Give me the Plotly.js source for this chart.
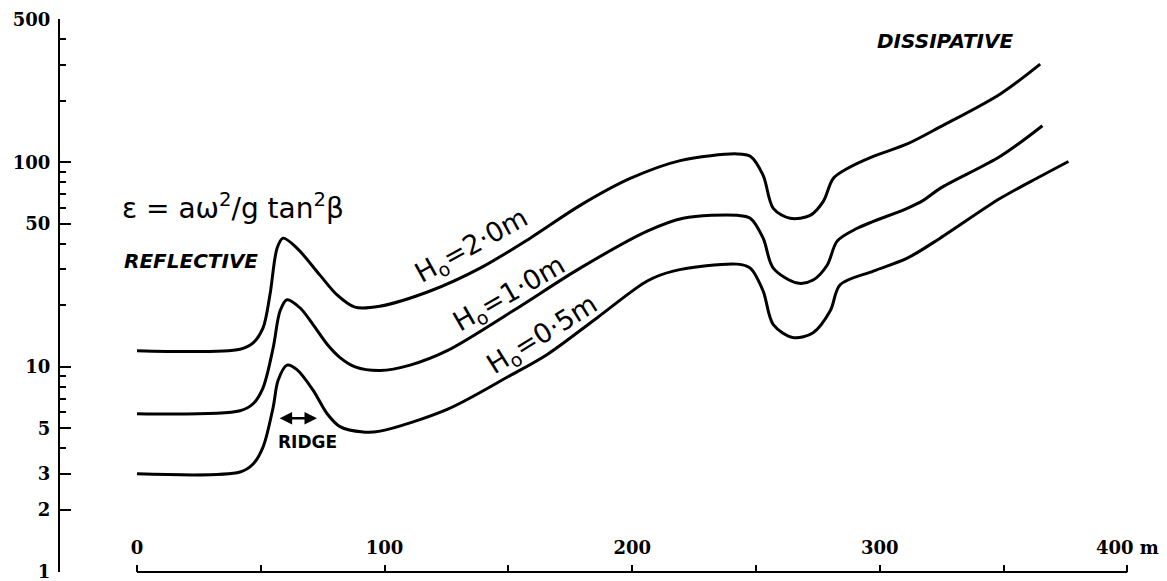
<!DOCTYPE html>
<html>
<head>
<meta charset="utf-8">
<script src="https://cdn.plot.ly/plotly-3.0.1.min.js"></script>
<style>html,body{margin:0;padding:0;background:#fff;}#chart{width:1167px;height:581px;}</style>
</head>
<body>
<div id="chart"></div>
<script>
// Distance offshore (m) and surf-scaling parameter epsilon for each deep-water wave height
const distH20 = [0, 41.6, 46.9, 50.9, 53.7, 56.6, 59.0, 64.6, 73.9, 80.8, 88.0, 98.0, 118.4, 138.6, 158.8, 179.0, 199.2, 219.4, 242.4, 247.7, 252.9, 257.0, 263.8, 271.9, 277.2, 281.2, 286.9, 297.4, 311.1, 324.4, 348.7, 364.8];
const epsH20  = [12.0, 12.2, 13.1, 15.5, 22.5, 38.1, 42.6, 38.1, 28.1, 22.5, 19.6, 19.8, 23.5, 30.4, 42.6, 61.6, 83.4, 102, 110, 107, 86.3, 59.6, 53.3, 55.1, 64.5, 83.4, 93.3, 107, 123, 149, 216, 302];

const distH10 = [0, 41.6, 46.9, 50.9, 55.0, 57.8, 60.6, 65.9, 71.1, 76.8, 82.0, 88.1, 98.2, 110.3, 125.3, 151.9, 179.0, 206.1, 220.6, 242.4, 247.7, 252.9, 257.0, 266.7, 273.1, 278.8, 282.8, 290.9, 311.1, 317.6, 324.4, 348.7, 365.7];
const epsH10  = [5.9, 6.1, 6.6, 7.9, 12.4, 18.8, 21.3, 19.4, 16.1, 12.9, 11.1, 10.0, 9.6, 10.2, 12.0, 18.8, 30.4, 46.1, 53.3, 55.1, 53.3, 42.6, 30.4, 25.7, 26.6, 31.5, 41.2, 47.6, 59.6, 65.2, 74.6, 107, 151];

const distH05 = [0, 41.6, 46.9, 50.9, 55.0, 57.0, 60.6, 64.6, 71.1, 76.8, 82.0, 91.3, 98.2, 125.3, 149.5, 165.7, 185.9, 206.1, 216.6, 242.4, 247.7, 252.9, 257.0, 265.1, 273.1, 280.0, 284.0, 297.4, 311.1, 324.4, 348.7, 364.8, 376.2];
const epsH05  = [3.0, 3.06, 3.35, 4.05, 6.35, 8.6, 10.2, 9.7, 7.7, 5.9, 5.1, 4.8, 4.85, 6.2, 8.9, 11.5, 17.4, 26.3, 29.4, 31.8, 30.4, 23.5, 16.1, 13.9, 14.7, 18.8, 25.2, 29.4, 34.0, 42.6, 66.7, 85.3, 101];

const xTickVals = [0, 100, 200, 300, 400];
const xTickText = ['0', '100', '200', '300', '400 m'];
const xMinorVals = [50, 150, 250, 350];
const yTickVals = [1, 2, 3, 5, 10, 50, 100, 500];
const yTickText = ['1', '2', '3', '5', '10', '50', '100', '500'];
const yMinorVals = [4, 6, 7, 8, 9, 20, 30, 40, 60, 70, 80, 90, 200, 300, 400];

const lineStyle = {color: '#000', width: 3, shape: 'spline', smoothing: 0.9};
const traces = [
  {x: distH20, y: epsH20, name: 'H0=2.0m', mode: 'lines', line: lineStyle, hoverinfo: 'skip'},
  {x: distH10, y: epsH10, name: 'H0=1.0m', mode: 'lines', line: lineStyle, hoverinfo: 'skip'},
  {x: distH05, y: epsH05, name: 'H0=0.5m', mode: 'lines', line: lineStyle, hoverinfo: 'skip'}
];

const tickFont = {family: 'DejaVu Serif', size: 18, color: '#000', weight: 'bold'};
const sansFont = {family: 'DejaVu Sans', color: '#000'};

const layout = {
  width: 1167, height: 581,
  margin: {l: 60, r: 5, t: 19, b: 9, pad: 0},
  paper_bgcolor: '#fff', plot_bgcolor: '#fff',
  showlegend: false,
  font: {family: 'DejaVu Sans', color: '#000'},
  xaxis: {
    range: [-31.1, 414], showgrid: false, zeroline: false, showline: false,
    tickmode: 'array', tickvals: xTickVals, ticktext: xTickText,
    ticks: 'inside', ticklen: 7, tickwidth: 2, tickcolor: '#000',
    ticklabelposition: 'inside', ticklabelstandoff: 8, ticklabeloverflow: 'allow',
    tickfont: tickFont,
    minor: {tickmode: 'array', tickvals: xMinorVals, ticks: 'inside', ticklen: 7, tickwidth: 2, tickcolor: '#000', showgrid: false}
  },
  yaxis: {
    type: 'log', range: [-0.003, Math.log10(500) + 0.002],
    showgrid: false, zeroline: false, showline: true, linecolor: '#000', linewidth: 2,
    tickmode: 'array', tickvals: yTickVals, ticktext: yTickText,
    ticks: 'inside', ticklen: 11, tickwidth: 2, tickcolor: '#000',
    ticklabelstandoff: 4, ticklabeloverflow: 'allow',
    tickfont: tickFont,
    minor: {tickmode: 'array', tickvals: yMinorVals, ticks: 'inside', ticklen: 6, tickwidth: 2, tickcolor: '#000', showgrid: false}
  },
  shapes: [
    {type: 'line', xref: 'x', yref: 'paper', x0: 0, x1: 400, y0: 0, y1: 0, line: {color: '#000', width: 2}}
  ],
  annotations: [
    {xref: 'x', yref: 'y', x: -6.9, y: 1.785, xanchor: 'left', yanchor: 'middle', showarrow: false,
     text: 'ε = aω<sup>2</sup>/g tan<sup>2</sup>β', font: Object.assign({size: 28}, sansFont)},
    {xref: 'x', yref: 'y', x: -6.1, y: 1.517, xanchor: 'left', yanchor: 'middle', showarrow: false,
     text: '<b><i>REFLECTIVE</i></b>', font: Object.assign({size: 20}, sansFont)},
    {xref: 'x', yref: 'y', x: 298.2, y: 2.592, xanchor: 'left', yanchor: 'middle', showarrow: false,
     text: '<b><i>DISSIPATIVE</i></b>', font: Object.assign({size: 20}, sansFont)},
    {xref: 'x', yref: 'y', x: 68.7, y: 0.632, xanchor: 'center', yanchor: 'middle', showarrow: false,
     text: '<b>RIDGE</b>', font: Object.assign({size: 17}, sansFont)},
    {xref: 'x', yref: 'y', axref: 'x', ayref: 'y', x: 72.7, y: 0.749, ax: 57.0, ay: 0.749,
     text: '', showarrow: true, arrowhead: 2, startarrowhead: 2, arrowside: 'end+start',
     arrowsize: 1, arrowwidth: 2.5, arrowcolor: '#000'},
    {xref: 'x', yref: 'y', x: 135.4, y: 1.590, textangle: -29, showarrow: false,
     text: 'H<sub>o</sub>=2·0m', font: Object.assign({size: 27}, sansFont)},
    {xref: 'x', yref: 'y', x: 150.7, y: 1.352, textangle: -30, showarrow: false,
     text: 'H<sub>o</sub>=1·0m', font: Object.assign({size: 27}, sansFont)},
    {xref: 'x', yref: 'y', x: 164.0, y: 1.153, textangle: -32, showarrow: false,
     text: 'H<sub>o</sub>=0·5m', font: Object.assign({size: 27}, sansFont)}
  ]
};

Plotly.newPlot('chart', traces, layout, {staticPlot: true, displayModeBar: false});
</script>
</body>
</html>
